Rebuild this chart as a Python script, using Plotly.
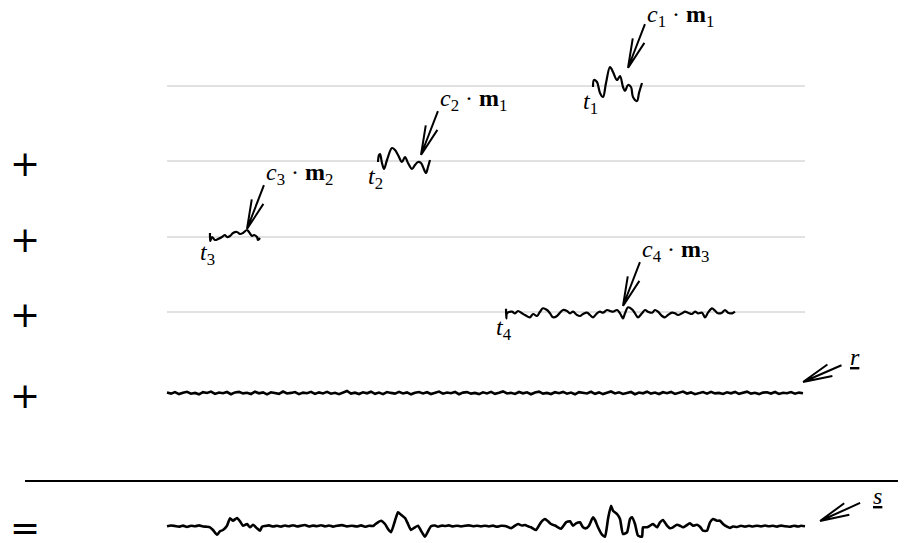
import math
import plotly.graph_objects as go

# ---------------- data ----------------
# onsets t1..t4 of the four atoms, in samples
onsets = [426, 211, 43, 339]

# atom waveforms: sample offset from onset, amplitude
atom1_dt = [0, 1, 4, 7, 10, 13, 17, 20, 24, 27, 30, 32, 35, 38, 40, 44, 46, 49]
atom1_amp = [-1, 6, 4, -7, -11, 3, 19, 14, 6, 10, -1, -5, 1, -1, -11, -15, -7, 3]

atom2_dt = [0, 1, 2, 4, 6, 9, 14, 17, 20, 24, 27, 30, 34, 37, 40, 43, 45, 48, 50, 52]
atom2_amp = [-1, 6, 7, -2, -8, 1, 13, 11, 6, -1, 4, -2, -8, -4, -1, -2, -6, -12, -6, 1]

atom3_dt = [0, 0.3, 2, 5, 8, 12, 15, 17, 20, 23, 27, 30, 33, 37, 39, 42, 44, 47, 48, 50]
atom3_amp = [4, -4, 0, -3, -2, 0, 2, 0, 1, 4, 5, 3, 4, 7, 5, 1, 2, 0, -3, -1]

atom4_dt = [0, 0.3, 1, 6, 9, 12, 16, 19, 24, 27,
            31, 34, 37, 41, 44, 47, 51, 54, 57, 61,
            64, 67, 71, 74, 77, 81, 84, 87, 91, 94,
            97, 101, 104, 107, 111, 114, 117, 119, 122, 126,
            129, 132, 136, 139, 142, 146, 149, 152, 156, 159,
            162, 166, 169, 172, 176, 179, 182, 186, 189, 192,
            196, 199, 202, 206, 209, 212, 216, 219, 222, 226,
            229]
atom4_amp = [3.3, -6.3, -1.3, 0.3, -1.3, 1, -1.3, -3, -5.3, -2,
             -4, 0.3, 3.7, 2, -1.3, -5.3, -4, -0.7, 2, 1,
             -1.3, 0.3, -3, -4, -2, -0.7, -3, -5.3, -1.3, 0.3,
             -0.7, 2, 1, 0.3, 2, -1.3, -6.3, -1.3, 4.7, 2.7,
             -1.3, -5.3, -1.3, 2, 0.3, -0.7, 2, 0.3, -4, -5.3,
             -3, -0.7, -1.3, -3, -1.3, 0.3, -0.7, -2, 0.3, -1.3,
             -0.7, -5.3, -0.7, 3.7, 1.3, -1.3, -0.7, 2, -0.7, -1.3,
             0.3]

# residual r (one value every R_STEP samples)
R_STEP = 4
r_vals = [
    0.4, -0.6, 0.9, -1.1, 0.3, 1.2, -0.7, 0.1, -1.3, 0.8, 0.0, 1.4, -0.9, 0.5, -0.2, 1.0, -1.2, 0.6, 1.1, -0.4,
    0.2, -1.0, 1.3, -0.3, 0.6, -1.4, 0.7, 0.3, -0.8, 1.5, -0.5, 0.1, 0.9, -1.1, 0.4, -0.2, 1.2, -0.9, 0.6, -0.4,
    1.1, -0.7, 0.2, -1.2, 0.8, 2.0, -0.6, 0.3, -1.0, 0.7, -0.3, 1.3, -0.8, 0.4, -1.1, 0.9, 0.1, -0.6, 1.2, -0.5,
    0.6, -1.3, 0.3, 1.0, -0.4, 0.8, -1.0, 0.2, 1.4, -0.7, 0.5, -0.2, 1.1, -1.2, 0.4, 0.9, -0.6, 0.1, -1.1, 0.7,
    -0.4, 1.2, -0.8, 0.3, 1.6, -0.5, 0.2, -0.9, 1.0, -0.3, 0.7, -1.2, 0.5, 1.3, -0.6, 0.1, -1.0, 0.8, -0.2, 1.1,
    -0.7, 0.4, -1.3, 0.9, 0.2, -0.5, 1.2, -0.8, 0.6, -1.1, 0.3, 1.5, -0.4, 0.7, -0.9, 0.2, 1.0, -1.2, 0.5, -0.3,
    1.3, -0.6, 0.4, -1.0, 0.8, -0.2, 1.1, -0.9, 0.3, 1.4, -0.5, 0.6, -1.2, 0.2, 0.9, -0.7, 1.2, -0.4, 0.1, -1.0,
    0.7, -0.3, 1.1, -0.8, 0.5, 1.3, -0.6, 0.2, -1.1, 0.4, 0.8, -0.5, 1.0, -0.9, 0.3, -0.2, 0.9, -0.7, 0.4, -0.3,
]

# signal s
s_t = [0, 4, 8, 12, 16, 20, 24, 28, 32, 36, 40, 43, 46, 50, 53, 56, 60, 63, 66, 70,
       73, 76, 80, 83, 86, 90, 93, 95, 98, 102, 106, 110, 114, 118, 122, 126, 130, 134, 138, 142,
       146, 150, 154, 158, 162, 166, 170, 175, 180, 185, 190, 194, 198, 202, 206, 208, 211, 214, 218, 221,
       224, 228, 231, 234, 238, 241, 244, 248, 251, 254, 258, 261, 264, 268, 271, 275, 278, 282, 286, 290,
       294, 298, 302, 306, 310, 314, 318, 322, 326, 330, 334, 338, 341, 344, 348, 351, 355, 358, 361, 364,
       366, 369, 372, 374, 378, 381, 384, 388, 391, 394, 397, 399, 403, 406, 409, 413, 416, 419, 422, 426,
       428, 431, 435, 438, 441, 444, 446, 450, 453, 456, 460, 463, 465, 468, 471, 475, 476, 480, 483, 486,
       490, 493, 496, 500, 503, 506, 510, 513, 516, 520, 523, 526, 530, 533, 536, 540, 543, 546, 550, 553,
       556, 560, 563, 566, 570, 574, 578, 582, 586, 590, 594, 598, 602, 606, 610, 614, 618, 623, 627, 631,
       634, 638]
s_v = [-0.3, 0.5, 0, -0.6, 0.4, -1, 0.3, -0.3, 0.6, -0.5, -0.7, -1.3, -4, -8.7, -5.3, -4, 0.3, 7.7, 5.3, 8,
       4.7, 0.3, 2, -1.3, 1.3, -2.3, -4.7, -0.7, 0, 0.6, -0.5, 0.2, -0.6, 0.5, -0.3, 0.8, -0.4, 0.3, 1, -0.5,
       0.4, -0.2, 0.7, -0.4, 0.5, -0.6, 0.3, 0.9, -0.4, 0.2, -0.5, 0.6, -0.7, 0.3, 0, 1.5, 3.7, 5.3, 2, -3,
       -6.3, 5.3, 13.7, 11.3, 8, 2, -4, -1.3, 0.3, -4.7, -10.7, -5.3, -0.3, 0.5, -0.7, 0.4, 0, 0.6, -0.4, 0.3,
       -0.5, 0.2, 0.6, -0.3, 0.2, -0.4, 0.3, -0.5, 0.4, -0.7, 0.2, 0, -1, -2.3, 0.3, 2, 0.5, 1, -0.3, -1.3,
       -2.5, -4, 0.5, 3.7, 7, 4.7, 2, 0.5, -1.3, -2.7, 1, 3.7, 4.7, 0.3, 2.7, 3.7, -1.3, -2.3, 0.3, 8.7,
       6, -1.3, -8.7, -10.7, 7, 20.3, 15.3, 12, 7, -8, -6.3, 7, 8.7, 2, -9.7, -10.7, -1.3, -1.3, 0.3, 2,
       -1.3, 3.7, 6, 0.3, -2.3, -1.3, 1.3, 0.3, -1.3, 1, 2.7, 0.3, 1.3, -0.7, -4.7, -4.7, 3.7, 7, 5.3, 5.3,
       2, -0.7, -2, -0.5, -1, 0.3, -0.6, 0.2, -0.5, 0.3, -0.4, 0.5, -0.3, 0.2, -0.6, 0.4, -0.3, -0.7, 0.3, -0.5,
       0.2, -0.3]

atom_labels = ["<i>c</i><sub>1</sub> · <b>m</b><sub>1</sub>",
               "<i>c</i><sub>2</sub> · <b>m</b><sub>1</sub>",
               "<i>c</i><sub>3</sub> · <b>m</b><sub>2</sub>",
               "<i>c</i><sub>4</sub> · <b>m</b><sub>3</sub>"]
onset_labels = ["<i>t</i><sub>1</sub>", "<i>t</i><sub>2</sub>",
                "<i>t</i><sub>3</sub>", "<i>t</i><sub>4</sub>"]
r_label = "<u><i>r</i></u>"
s_label = "<u><i>s</i></u>"

# ---------------- layout constants (pixels) ----------------
W, H = 906, 543
PAGE_PAD = 8              # default body margin of the html page
SIG_X0 = 167              # pixel column of sample 0
N_SAMPLES = 638
ROW_BASE = [86, 161, 237, 312]
R_BASE = 393
S_BASE = 526
RULE_Y = 481
SIGN_X = 25
# arrow tips relative to (onset, baseline): (dt, up)
ARROW_TIPS = [(35, 18), (43, 6), (37, 8), (117, 6)]
# extra downward nudge of each c-label (keeps the top one inside the page)
LABEL_NUDGE = [3, 0, 0, 0]
SERIF = "Liberation Serif, Times New Roman, DejaVu Serif, serif"

atoms = [(atom1_dt, atom1_amp), (atom2_dt, atom2_amp),
         (atom3_dt, atom3_amp), (atom4_dt, atom4_amp)]

fig = go.Figure()


def ypix(p):
    return -p


# grey baselines
shapes = []
for b in ROW_BASE:
    shapes.append(dict(type="line", x0=0, x1=N_SAMPLES, y0=ypix(b), y1=ypix(b),
                       line=dict(color="#c4c4c4", width=1), layer="below"))
# rule
shapes.append(dict(type="line", x0=SIGN_X - SIG_X0, x1=W - SIG_X0, y0=ypix(RULE_Y), y1=ypix(RULE_Y),
                   line=dict(color="black", width=2.2)))


def arrow(tip_x, tip_y, dx, dy, length, head=30, ang=12):
    n = math.hypot(dx, dy)
    ux, uy = dx / n, dy / n
    tx, ty = tip_x + ux * length, tip_y + uy * length
    path = f"M {tx:.2f} {ty:.2f} L {tip_x:.2f} {tip_y:.2f}"
    for s in (1, -1):
        a = math.radians(ang) * s
        bx = ux * math.cos(a) - uy * math.sin(a)
        by = ux * math.sin(a) + uy * math.cos(a)
        path += f" M {tip_x + bx * head:.2f} {tip_y + by * head:.2f} L {tip_x:.2f} {tip_y:.2f}"
    shapes.append(dict(type="path", path=path, line=dict(color="black", width=2)))
    return tx, ty


annotations = []
for i, ((dt, amp), t0, base) in enumerate(zip(atoms, onsets, ROW_BASE)):
    fig.add_trace(go.Scatter(x=[t0 + d for d in dt], y=[ypix(base) + a for a in amp],
                             mode="lines", line=dict(color="black", width=2.2, shape="spline", smoothing=1.0),
                             hoverinfo="skip", showlegend=False))
    ax, ay = ARROW_TIPS[i]
    tx, ty = arrow(t0 + ax, ypix(base) + ay, 17, 44, 47)
    annotations.append(dict(x=tx + 1, y=ty + 11 - LABEL_NUDGE[i], text=atom_labels[i], xanchor="left",
                            yanchor="middle", showarrow=False, borderpad=0,
                            font=dict(family=SERIF, size=24, color="black")))
    annotations.append(dict(x=t0 - 11, y=ypix(base) - 17, text=onset_labels[i], xanchor="left",
                            yanchor="middle", showarrow=False, borderpad=0,
                            font=dict(family=SERIF, size=24, color="black")))

# residual
r_t = [i * R_STEP for i in range(len(r_vals))]
fig.add_trace(go.Scatter(x=r_t, y=[ypix(R_BASE) + v for v in r_vals], mode="lines",
                         line=dict(color="black", width=2.6), hoverinfo="skip", showlegend=False))
# signal
fig.add_trace(go.Scatter(x=s_t, y=[ypix(S_BASE) + v for v in s_v], mode="lines",
                         line=dict(color="black", width=2.6, shape="spline", smoothing=0.5),
                         hoverinfo="skip", showlegend=False))

# r and s arrows
tx, ty = arrow(636, ypix(R_BASE) + 11, 39, 17, 42)
annotations.append(dict(x=tx + 7, y=ty + 8, text=r_label, xanchor="left", yanchor="middle",
                        showarrow=False, borderpad=0, font=dict(family=SERIF, size=24, color="black")))
tx, ty = arrow(653, ypix(S_BASE) + 5, 40, 18, 44)
annotations.append(dict(x=tx + 12, y=ty + 7, text=s_label, xanchor="left", yanchor="middle",
                        showarrow=False, borderpad=0, font=dict(family=SERIF, size=24, color="black")))

# plus / equals signs
for b in ROW_BASE[1:] + [R_BASE]:
    annotations.append(dict(x=SIGN_X - SIG_X0, y=ypix(b + 2), text="+", xanchor="center", yanchor="middle",
                            showarrow=False, font=dict(family="DejaVu Sans", size=36, color="black")))
annotations.append(dict(x=SIGN_X - SIG_X0, y=ypix(S_BASE + 1), text="=", xanchor="center", yanchor="middle",
                        showarrow=False, font=dict(family="DejaVu Sans", size=36, color="black")))

fig.update_layout(
    width=W, height=H, autosize=False,
    margin=dict(l=0, r=0, t=0, b=0),
    paper_bgcolor="white", plot_bgcolor="white",
    # ranges shifted by the page padding so that pixel positions line up with the window
    xaxis=dict(range=[-SIG_X0 + PAGE_PAD, W - SIG_X0 + PAGE_PAD], visible=False, fixedrange=True),
    yaxis=dict(range=[-H - PAGE_PAD, -PAGE_PAD], visible=False, fixedrange=True),
    shapes=shapes, annotations=annotations, showlegend=False,
)

fig.write_html("out.html")
